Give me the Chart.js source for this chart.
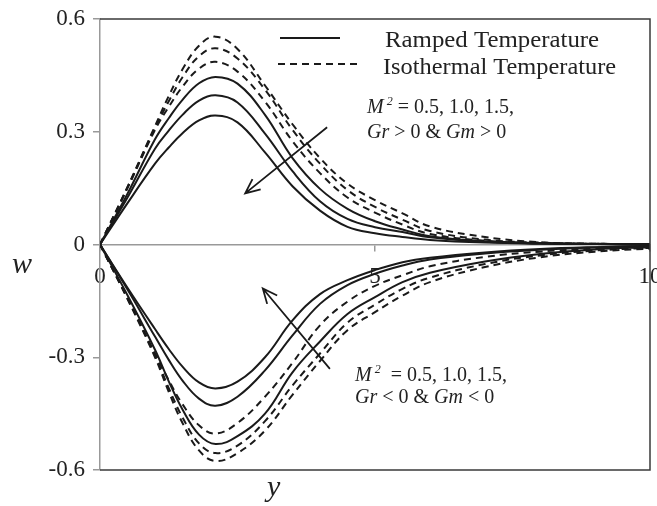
<!DOCTYPE html>
<html>
<head>
<meta charset="utf-8">
<script src="https://cdn.jsdelivr.net/npm/chart.js@4"></script>
<style>
  html, body { margin: 0; padding: 0; background: #fff; }
</style>
</head>
<body>
<canvas id="chart" width="657" height="506"></canvas>
<script>
// distance y along the plate
const ys = [0, 0.5, 1, 1.25, 1.5, 1.8, 2.1, 2.5, 3, 3.5, 4, 4.5, 5, 5.5, 6, 7, 8, 9, 10];

// velocity w, Gr > 0 & Gm > 0  (M^2 = 0.5, 1.0, 1.5)
const rampedPos05 = [0, 0.135, 0.28, 0.336, 0.385, 0.429, 0.446, 0.428, 0.345, 0.23, 0.148, 0.095, 0.062, 0.04, 0.022, 0.008, 0.003, 0.001, 0];
const rampedPos10 = [0, 0.125, 0.255, 0.303, 0.345, 0.383, 0.397, 0.378, 0.295, 0.195, 0.115, 0.068, 0.046, 0.033, 0.019, 0.007, 0.003, 0.001, 0];
const rampedPos15 = [0, 0.11, 0.215, 0.258, 0.296, 0.33, 0.343, 0.325, 0.245, 0.155, 0.09, 0.047, 0.03, 0.02, 0.012, 0.005, 0.002, 0.001, 0];
const isoPos05    = [0, 0.153, 0.315, 0.395, 0.466, 0.529, 0.553, 0.52, 0.423, 0.32, 0.23, 0.162, 0.118, 0.083, 0.048, 0.02, 0.006, 0.002, 0.001];
const isoPos10    = [0, 0.152, 0.31, 0.381, 0.445, 0.501, 0.522, 0.495, 0.412, 0.305, 0.215, 0.145, 0.1, 0.066, 0.036, 0.013, 0.005, 0.002, 0.001];
const isoPos15    = [0, 0.15, 0.305, 0.366, 0.42, 0.468, 0.486, 0.46, 0.38, 0.275, 0.19, 0.125, 0.085, 0.053, 0.028, 0.01, 0.004, 0.002, 0.001];

// velocity w, Gr < 0 & Gm < 0  (M^2 = 0.5, 1.0, 1.5)
const rampedNeg05 = [0, -0.135, -0.28, -0.364, -0.439, -0.506, -0.531, -0.51, -0.45, -0.34, -0.258, -0.185, -0.14, -0.1, -0.075, -0.045, -0.025, -0.013, -0.007];
const rampedNeg10 = [0, -0.12, -0.245, -0.307, -0.362, -0.41, -0.429, -0.405, -0.335, -0.242, -0.158, -0.108, -0.078, -0.056, -0.04, -0.024, -0.014, -0.008, -0.004];
const rampedNeg15 = [0, -0.115, -0.225, -0.278, -0.325, -0.367, -0.383, -0.365, -0.3, -0.202, -0.132, -0.095, -0.068, -0.047, -0.035, -0.021, -0.012, -0.007, -0.004];
const isoNeg05    = [0, -0.145, -0.3, -0.392, -0.475, -0.548, -0.576, -0.555, -0.495, -0.4, -0.31, -0.228, -0.18, -0.136, -0.1, -0.06, -0.034, -0.019, -0.011];
const isoNeg10    = [0, -0.143, -0.295, -0.382, -0.46, -0.529, -0.555, -0.535, -0.47, -0.375, -0.29, -0.208, -0.16, -0.118, -0.088, -0.052, -0.029, -0.016, -0.009];
const isoNeg15    = [0, -0.142, -0.29, -0.361, -0.425, -0.481, -0.503, -0.475, -0.405, -0.315, -0.215, -0.152, -0.11, -0.082, -0.058, -0.033, -0.019, -0.011, -0.006];

const xTickValues = [0, 5, 10];
const yTickValues = [-0.6, -0.3, 0, 0.3, 0.6];
const seriesLabels = ['Ramped Temperature', 'Isothermal Temperature'];

const SERIF = '"Liberation Serif", "Times New Roman", serif';
const INK = '#1a1a1a';
const DASH = [7, 5];

function series(values, dashed, label) {
	return {
		label: label,
		data: values.map((v, i) => ({ x: ys[i], y: v })),
		borderColor: INK,
		borderWidth: 2,
		borderDash: dashed ? DASH : [],
		pointRadius: 0,
		tension: 0.4,
		fill: false
	};
}

/******************* DECORATIONS **********************/

// draws a run of text pieces: { t, it (italic), sup (superscript) }
function richText(ctx, parts, x, y, size, stretch = 1) {
	ctx.save();
	ctx.translate(x, y);
	ctx.scale(stretch, 1);
	let cx = 0;
	for (const p of parts) {
		const fs = p.sup ? Math.round(size * 0.62) : size;
		ctx.font = `${p.it ? 'italic ' : ''}${fs}px ${SERIF}`;
		ctx.fillText(p.t, cx, p.sup ? -size * 0.4 : 0);
		cx += ctx.measureText(p.t).width;
	}
	ctx.restore();
}

function arrow(ctx, x1, y1, x2, y2) {
	const ang = Math.atan2(y2 - y1, x2 - x1);
	const head = 16, spread = 0.42;
	ctx.beginPath();
	ctx.moveTo(x1, y1);
	ctx.lineTo(x2, y2);
	ctx.moveTo(x2 - head * Math.cos(ang - spread), y2 - head * Math.sin(ang - spread));
	ctx.lineTo(x2, y2);
	ctx.lineTo(x2 - head * Math.cos(ang + spread), y2 - head * Math.sin(ang + spread));
	ctx.stroke();
}

const decorations = {
	id: 'decorations',
	afterDraw(chart) {
		const { ctx, chartArea: a, scales: { x, y } } = chart;
		ctx.save();

		// frame on top, right and bottom
		ctx.strokeStyle = '#3a3a3a';
		ctx.lineWidth = 1.5;
		ctx.beginPath();
		ctx.moveTo(a.left, a.top);
		ctx.lineTo(a.right, a.top);
		ctx.lineTo(a.right, a.bottom);
		ctx.lineTo(a.left, a.bottom);
		ctx.stroke();

		// legend
		ctx.strokeStyle = INK;
		ctx.lineWidth = 2;
		ctx.beginPath(); ctx.moveTo(280, 38); ctx.lineTo(340, 38); ctx.stroke();
		ctx.setLineDash(DASH);
		ctx.beginPath(); ctx.moveTo(278, 64); ctx.lineTo(357, 64); ctx.stroke();
		ctx.setLineDash([]);
		ctx.fillStyle = '#222';
		ctx.textBaseline = 'alphabetic';
		ctx.textAlign = 'left';
		richText(ctx, [{ t: seriesLabels[0] }], 385, 47, 23, 1.08);
		richText(ctx, [{ t: seriesLabels[1] }], 383, 74, 23, 1.06);

		// annotations
		richText(ctx, [{ t: 'M', it: true }, { t: ' 2', it: true, sup: true }, { t: ' = 0.5, 1.0, 1.5,' }], 367, 113, 20);
		richText(ctx, [{ t: 'Gr', it: true }, { t: ' > 0 & ' }, { t: 'Gm', it: true }, { t: ' > 0' }], 367, 138, 20);
		richText(ctx, [{ t: 'M', it: true }, { t: ' 2', it: true, sup: true }, { t: '  = 0.5, 1.0, 1.5,' }], 355, 381, 20);
		richText(ctx, [{ t: 'Gr', it: true }, { t: ' < 0 & ' }, { t: 'Gm', it: true }, { t: ' < 0' }], 355, 403, 20);

		ctx.strokeStyle = INK;
		ctx.lineWidth = 1.8;
		arrow(ctx, x.getPixelForValue(4.13), y.getPixelForValue(0.312), x.getPixelForValue(2.64), y.getPixelForValue(0.136));
		arrow(ctx, x.getPixelForValue(4.18), y.getPixelForValue(-0.331), x.getPixelForValue(2.96), y.getPixelForValue(-0.117));

		// axis titles
		ctx.font = `italic 30px ${SERIF}`;
		ctx.fillText('w', 12, 273);
		ctx.fillText('y', 267, 496);

		ctx.restore();
	}
};

/******************* CHART **********************/

new Chart(document.getElementById('chart'), {
	type: 'line',
	data: {
		datasets: [
			series(rampedPos05, false, seriesLabels[0]),
			series(rampedPos10, false, seriesLabels[0]),
			series(rampedPos15, false, seriesLabels[0]),
			series(isoPos05, true, seriesLabels[1]),
			series(isoPos10, true, seriesLabels[1]),
			series(isoPos15, true, seriesLabels[1]),
			series(rampedNeg05, false, seriesLabels[0]),
			series(rampedNeg10, false, seriesLabels[0]),
			series(rampedNeg15, false, seriesLabels[0]),
			series(isoNeg05, true, seriesLabels[1]),
			series(isoNeg10, true, seriesLabels[1]),
			series(isoNeg15, true, seriesLabels[1])
		]
	},
	options: {
		responsive: false,
		animation: false,
		layout: { padding: { left: 0, top: 19, right: 7, bottom: 36 } },
		plugins: {
			legend: { display: false },
			tooltip: { enabled: false }
		},
		scales: {
			x: {
				type: 'linear',
				min: 0,
				max: 10,
				position: { y: 0 },
				afterBuildTicks: (scale) => { scale.ticks = xTickValues.map(v => ({ value: v })); },
				afterFit: (scale) => { scale.paddingLeft = 0; scale.paddingRight = 0; },
				ticks: {
					autoSkip: false,
					maxRotation: 0,
					padding: 13,
					color: '#222',
					font: { family: SERIF, size: 23 }
				},
				grid: { drawOnChartArea: false, drawTicks: true, tickLength: 6, color: '#999', lineWidth: 1.5 },
				border: { color: '#999', width: 1.5 }
			},
			y: {
				type: 'linear',
				min: -0.6,
				max: 0.6,
				position: 'left',
				afterBuildTicks: (scale) => { scale.ticks = yTickValues.map(v => ({ value: v })); },
				afterFit: (scale) => { scale.width = 100; scale.paddingTop = 0; scale.paddingBottom = 0; },
				ticks: {
					padding: 8,
					color: '#222',
					font: { family: SERIF, size: 23 },
					callback: (v) => String(Math.round(v * 10) / 10)
				},
				grid: { drawOnChartArea: false, drawTicks: true, tickLength: 7, color: '#999', lineWidth: 1.5 },
				border: { color: '#999', width: 1.5 }
			}
		}
	},
	plugins: [decorations]
});
</script>
</body>
</html>
